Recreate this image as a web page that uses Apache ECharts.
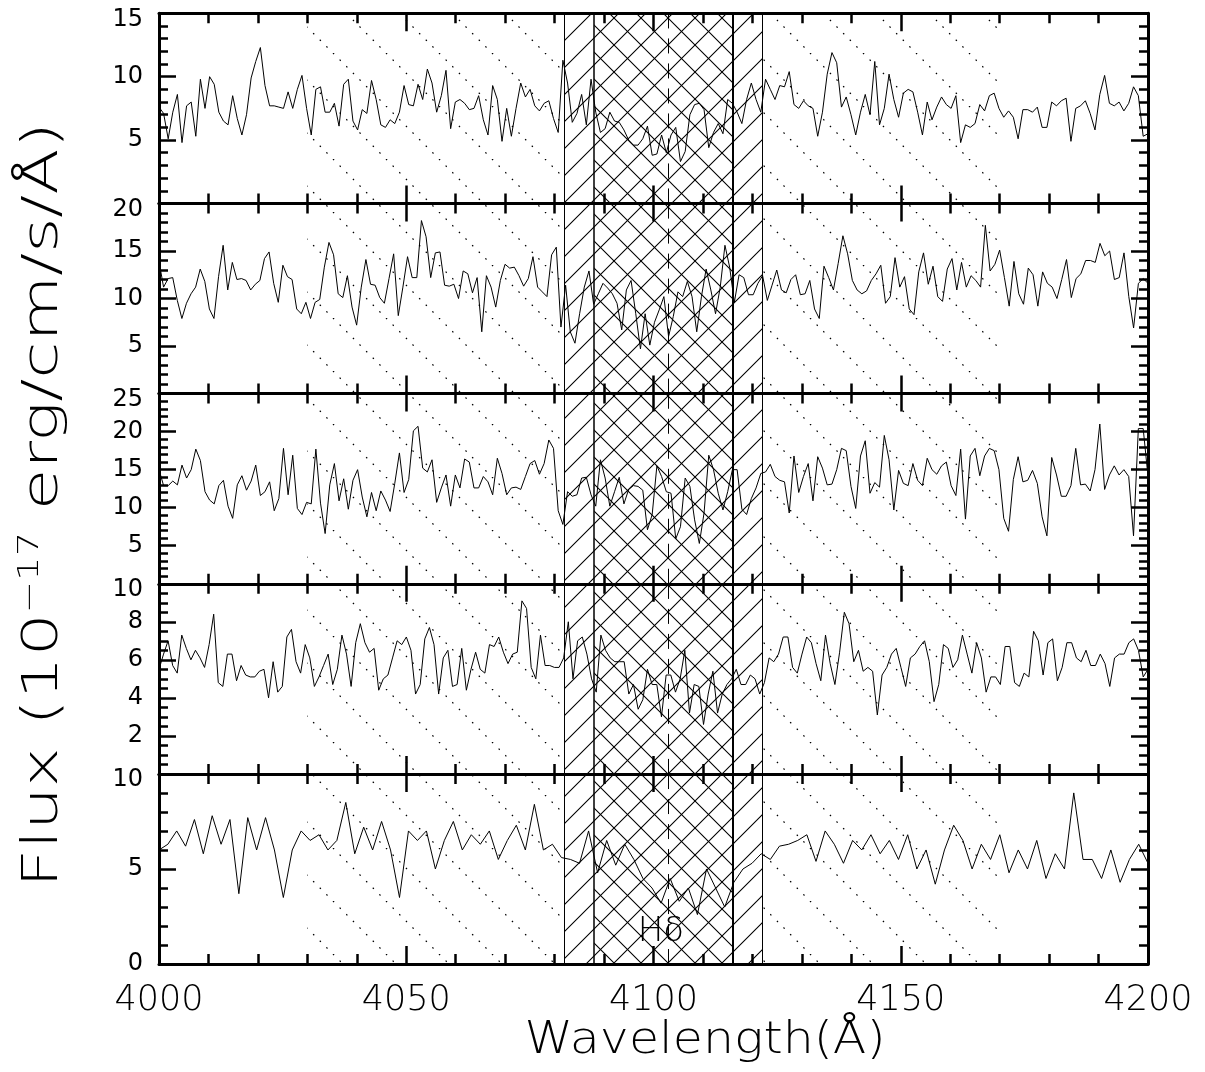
<!DOCTYPE html>
<html><head><meta charset="utf-8">
<script src="https://cdn.jsdelivr.net/npm/echarts@6/dist/echarts.min.js"></script>
<style>html,body{margin:0;padding:0;background:#fff}#chart{width:1205px;height:1072px}</style>
</head><body><div id="chart"></div>
<script>
// ---------- data ----------
const waveMin = 4000, waveMax = 4200;
const xTickStep = 50;
const flux1 = [
7.6,7.1,5.1,7.2,8.6,4.8,7.7,8.0,5.3,9.8,7.5,10.0,9.4,7.2,6.5,6.2,8.5,6.7,5.4,7.0,
9.9,11.2,12.3,9.3,7.7,7.7,7.6,7.5,8.8,7.5,9.0,10.1,7.5,5.4,9.0,9.2,7.2,7.2,7.9,6.1,
9.4,9.8,6.5,5.8,7.4,7.1,9.7,8.2,6.2,6.0,6.6,6.3,7.2,9.3,7.8,7.7,9.4,8.2,10.6,9.5,
7.2,8.5,10.5,5.9,8.0,8.2,7.9,7.4,7.5,8.5,6.6,5.4,9.3,8.2,
4.9,7.5,5.3,7.5,9.5,8.4,9.0,7.7,7.3,7.9,8.1,6.7,5.6,11.3,9.5,6.4,7.1,8.6,6.2,9.8,
7.2,5.6,5.9,7.2,6.5,6.4,5.8,5.0,4.6,4.6,5.1,6.1,3.8,3.9,5.4,4.0,5.4,6.0,3.3,4.1,
7.0,7.8,7.9,7.4,4.4,5.6,6.3,5.5,8.2,7.9,7.2,6.3,8.2,9.5,8.2,7.2,9.8,9.0,8.2,9.3,
9.2,10.4,7.8,7.5,8.1,7.7,7.5,5.3,7.2,10.2,11.9,11.1,7.6,8.4,7.0,
5.4,7.2,8.6,7.0,11.2,6.2,7.5,10.2,8.2,6.8,8.7,9.0,8.8,7.2,5.4,8.0,6.6,7.6,8.4,7.8,
7.5,8.5,4.8,6.2,6.0,6.3,7.8,7.3,8.5,8.7,7.5,6.8,7.3,6.8,5.1,7.4,7.4,7.2,7.6,6.0,
6.0,8.0,7.7,8.1,8.3,4.9,7.5,7.7,8.1,7.1,5.8,8.6,10.1,7.9,7.7,8.0,7.3,7.9,9.2,8.5,
5.3,5.5];
const flux2 = [
13.9,11.2,12.1,12.2,9.8,7.9,9.5,10.5,11.2,13.1,11.8,8.9,7.9,12.3,15.6,10.9,13.8,12.0,12.1,11.9,
10.9,11.5,11.9,14.2,14.9,11.6,9.6,13.5,12.3,12.0,8.9,8.4,9.6,7.9,9.6,9.9,13.3,15.9,14.6,10.5,
10.1,12.4,9.1,7.2,11.2,14.1,11.5,11.4,10.1,9.5,12.1,14.7,8.2,11.2,14.4,12.2,12.2,18.2,16.5,12.2,
14.8,14.9,11.4,11.3,11.5,10.0,12.9,12.6,10.6,12.2,6.5,12.4,11.2,9.1,
11.9,13.6,13.2,13.3,12.4,11.3,12.1,14.4,11.2,10.7,10.2,14.6,15.4,7.0,11.4,6.5,5.3,8.4,11.2,12.9,
9.4,10.5,11.6,11.1,10.5,9.5,6.7,10.9,11.9,8.4,4.7,8.4,5.1,7.5,8.8,10.2,6.0,8.1,10.7,10.2,
11.8,10.2,6.5,10.2,13.1,10.9,8.4,11.2,15.6,13.3,9.6,12.5,12.2,10.4,10.4,11.6,12.4,9.8,11.4,13.0,
10.9,10.6,12.0,12.5,10.4,10.5,11.9,8.9,7.9,13.4,12.2,10.9,13.7,16.6,14.7,
11.9,10.9,10.5,10.8,11.9,12.6,13.5,9.5,10.2,14.3,11.2,12.3,8.9,8.3,12.8,14.8,11.5,13.4,10.2,9.7,
13.1,14.2,10.9,13.8,11.2,12.4,11.9,11.2,17.7,12.9,13.6,15.1,12.2,9.2,13.9,10.5,9.4,13.2,12.5,9.2,
12.8,11.6,11.2,10.0,12.0,14.1,10.1,12.1,12.6,14.0,14.0,13.8,15.8,14.5,15.0,12.0,12.2,14.8,10.2,6.9,
11.6,12.1,11.6];
const flux3 = [
15.0,12.9,12.9,13.5,13.0,15.6,13.9,15.0,17.7,16.2,12.1,11.0,10.5,12.9,13.6,10.2,8.6,13.0,14.2,12.3,
13.5,15.6,11.6,12.1,13.4,9.6,11.2,17.8,11.7,16.9,9.9,9.1,10.7,10.5,17.7,10.6,6.6,13.0,15.8,10.9,
13.8,9.8,13.6,15.0,11.4,8.8,12.0,9.6,12.2,11.0,9.5,13.2,17.2,12.0,13.7,20.1,20.7,15.2,14.7,16.3,
10.7,12.6,14.3,10.2,14.3,12.6,16.4,16.0,12.6,12.6,14.1,13.4,11.7,16.5,
14.5,11.7,12.6,12.7,12.4,14.1,15.8,16.2,14.4,15.8,18.9,17.8,9.6,7.8,12.1,11.5,11.7,13.9,14.0,11.7,
10.2,16.3,13.9,10.2,12.1,14.0,10.5,12.4,12.9,12.8,12.3,7.1,9.1,15.5,14.1,12.1,11.9,5.9,7.5,13.9,
12.8,8.4,5.3,9.3,16.9,15.0,11.9,9.7,12.1,15.0,15.0,9.8,9.1,11.2,12.6,14.5,14.7,15.7,14.1,13.6,
13.4,9.3,16.8,12.0,14.1,15.8,10.9,16.7,15.2,13.0,13.1,15.0,17.8,17.5,
12.8,9.9,16.8,18.8,11.9,13.3,12.7,19.5,16.3,9.7,14.9,13.2,12.9,15.8,13.6,12.9,16.5,15.0,14.4,15.5,
16.0,12.9,11.6,17.7,8.5,16.8,17.8,14.2,16.8,17.8,17.5,15.0,8.6,6.9,13.7,16.7,13.4,13.6,14.9,13.2,
8.8,6.3,16.6,14.3,11.5,11.5,12.9,17.8,13.0,13.1,12.2,15.0,21.0,12.4,14.3,15.5,14.3,15.0,14.1,6.3,
20.4,20.4,14.1];
const flux4 = [
5.5,6.3,7.0,5.7,5.3,7.3,6.6,6.0,6.5,6.1,5.6,6.8,8.4,4.8,4.6,6.3,6.3,4.9,5.7,5.2,
5.1,5.1,5.4,5.5,4.0,5.9,4.3,4.6,7.2,7.6,5.9,5.3,6.8,6.1,4.6,5.1,5.7,6.3,4.7,5.5,
7.3,6.3,4.6,6.9,7.9,6.9,6.4,6.6,4.4,5.0,5.2,6.1,7.0,6.8,7.2,6.5,4.2,4.7,7.1,7.7,
6.8,4.2,6.1,6.5,4.6,4.7,6.6,4.4,5.5,6.4,5.5,5.3,6.8,6.7,7.2,
6.4,5.8,6.3,6.4,9.1,8.7,5.6,5.0,7.3,5.7,5.7,5.6,5.6,6.1,8.0,5.0,7.0,7.2,6.3,5.0,
4.3,7.3,6.5,6.1,5.9,5.9,5.9,4.2,4.7,3.4,3.9,5.5,4.7,4.7,3.0,5.2,5.2,4.3,5.0,6.5,
3.2,4.7,4.6,2.6,4.2,5.4,3.2,4.2,4.7,5.0,5.5,4.7,4.7,5.2,5.0,4.2,4.8,6.1,5.9,6.3,
7.2,7.2,5.6,5.3,6.3,7.2,6.9,5.8,4.9,7.3,5.8,4.7,6.4,8.5,7.9,
5.9,6.5,5.4,5.6,5.4,3.1,5.2,5.6,6.3,6.6,5.6,4.6,6.1,6.3,6.7,7.0,5.9,3.8,4.7,6.8,
6.6,5.6,6.0,7.3,6.3,5.3,6.9,6.1,4.3,5.1,5.1,4.7,6.7,6.7,4.8,4.6,5.3,5.1,7.5,7.0,
5.2,6.9,7.1,4.9,5.6,6.9,6.9,6.1,5.9,6.5,5.7,5.7,6.3,5.8,4.6,6.1,6.3,6.3,6.9,7.1,
6.5,5.1,5.5];
const flux5 = [
6.0,6.3,7.0,6.2,7.6,5.8,7.8,6.3,7.6,3.7,7.7,6.0,7.7,6.0,3.5,6.0,7.0,6.5,6.8,6.0,
6.5,8.5,5.8,7.2,6.0,7.5,6.0,3.5,7.0,6.5,7.0,5.0,6.5,7.5,6.0,6.8,6.3,7.0,5.5,6.5,
7.3,6.0,8.4,6.0,6.3,5.6,5.5,5.3,7.0,4.8,6.5,5.2,6.3,5.5,4.5,4.0,3.2,4.5,3.3,4.0,
2.6,5.0,4.0,3.0,4.3,5.0,5.3,5.8,5.5,6.2,6.3,6.5,6.8,5.4,7.0,6.3,5.3,6.5,6.0,6.8,
5.8,6.5,5.5,6.8,5.0,6.0,4.2,6.0,7.3,6.5,5.0,6.3,5.5,6.8,4.8,6.0,5.0,6.5,4.5,5.8,
5.0,9.0,5.5,5.5,4.5,6.0,4.3,5.5,6.3,5.3];
const fluxes = [flux1, flux2, flux3, flux4, flux5];
const yMax = [15, 20, 25, 10, 10];
const yStep = [5, 5, 5, 2, 5];
const yMinorSplit = [5, 5, 5, 4, 5];
const lineBand = [4082, 4122];
const narrowBand = [4088, 4116];
const blueCont = [4030, 4082];
const redCont = [4122, 4170];
const hdeltaWave = 4102.9;
const hdeltaText = 'Hδ';
const hdeltaPos = [4101.5, 1.7];
const xTitle = 'Wavelength(Å)';

function waveGrid(n) {
  const out = [];
  for (let i = 0; i < n; i++) out.push(waveMin * Math.pow(waveMax / waveMin, i / (n - 1)));
  return out;
}

// ---------- hatch patterns ----------
function tile(d, draw) {
  const c = document.createElement('canvas');
  c.width = d; c.height = d;
  const ctx = c.getContext('2d');
  draw(ctx, d);
  return c;
}
function slashLines(ctx, d, c0) {
  for (let k = -1; k <= 2; k++) { const s = c0 + k * d; ctx.moveTo(s + 3, -3); ctx.lineTo(s - d - 3, d + 3); }
}
function backLines(ctx, d, c0) {
  for (let k = -2; k <= 1; k++) { const s = c0 + k * d; ctx.moveTo(s - 3, -3); ctx.lineTo(s + d + 3, d + 3); }
}
const HATCH = 27;
const slashTile = tile(HATCH, (ctx, d) => {
  ctx.strokeStyle = '#000'; ctx.lineWidth = 1.1; ctx.beginPath(); slashLines(ctx, d, 11); ctx.stroke();
});
const backTile = tile(HATCH, (ctx, d) => {
  ctx.strokeStyle = '#000'; ctx.lineWidth = 1.1; ctx.beginPath(); backLines(ctx, d, 2); ctx.stroke();
});
const DOT = 53;
const dotTile = tile(DOT, (ctx, d) => {
  const period = d * Math.SQRT2 / 8;
  ctx.strokeStyle = '#000'; ctx.lineWidth = 1.2;
  ctx.setLineDash([1.6, period - 1.6]);
  for (let k = -1; k <= 1; k++) {
    const s = 15 + k * d;
    ctx.beginPath(); ctx.moveTo(s, 0); ctx.lineTo(s + d, d); ctx.stroke();
  }
});
const pat = (img) => ({ image: img, repeat: 'repeat' });

// ---------- layout ----------
const L = 159, W = 989, TOP = 13.3, PH = 190.15;
const FONT = '"DejaVu Sans", sans-serif';
const grids = [], xAxes = [], yAxes = [], series = [];
const axLine = { show: true, onZero: false, lineStyle: { color: '#000', width: 3 } };

fluxes.forEach((flux, k) => {
  grids.push({ left: L, width: W, top: TOP + PH * k, height: PH, containLabel: false, outerBoundsMode: 'none' });
  const last = k === fluxes.length - 1;
  ['bottom', 'top'].forEach((pos) => {
    xAxes.push({
      type: 'value', gridIndex: k, position: pos, min: waveMin, max: waveMax, interval: xTickStep,
      axisLine: axLine,
      axisTick: { show: true, inside: true, length: 18, lineStyle: { color: '#000', width: 2.5 } },
      minorTick: { show: true, splitNumber: 5, length: 10, lineStyle: { color: '#000', width: 2.5 } },
      splitLine: { show: false }, minorSplitLine: { show: false },
      axisLabel: { show: last && pos === 'bottom', margin: 19, color: '#000', fontSize: 35, fontFamily: FONT,
        fontWeight: 200, showMinLabel: true, showMaxLabel: true, formatter: (v) => String(v) }
    });
  });
  ['left', 'right'].forEach((pos) => {
    yAxes.push({
      type: 'value', gridIndex: k, position: pos, min: 0, max: yMax[k], interval: yStep[k],
      axisLine: axLine,
      axisTick: { show: true, inside: true, length: 17, lineStyle: { color: '#000', width: 2.5 } },
      minorTick: { show: true, splitNumber: yMinorSplit[k], length: 9, lineStyle: { color: '#000', width: 2.5 } },
      splitLine: { show: false }, minorSplitLine: { show: false },
      axisLabel: { show: pos === 'left', margin: 16, color: '#000', fontSize: 24, fontFamily: FONT,
        showMinLabel: last, showMaxLabel: true,
        formatter: (v) => (v === yMax[k] ? '{top|' + v + '}' : String(v)),
        rich: { top: { fontSize: 24, fontFamily: FONT, color: '#000', padding: [12, 0, 0, 0] } } }
    });
  });
  const grid = waveGrid(flux.length);
  const s = {
    type: 'line', xAxisIndex: 2 * k, yAxisIndex: 2 * k,
    data: flux.map((v, i) => [grid[i], v]),
    symbol: 'none', lineStyle: { color: '#000', width: 1 }, z: 5, silent: true,
    markArea: {
      silent: true, emphasis: { disabled: true },
      label: { show: false },
      data: [
        [{ xAxis: blueCont[0], itemStyle: { color: pat(dotTile), opacity: 1 } }, { xAxis: blueCont[1] }],
        [{ xAxis: redCont[0], itemStyle: { color: pat(dotTile), opacity: 1 } }, { xAxis: redCont[1] }],
        [{ xAxis: lineBand[0], itemStyle: { color: pat(slashTile), opacity: 1 } }, { xAxis: lineBand[1] }],
        [{ xAxis: narrowBand[0], itemStyle: { color: pat(backTile), opacity: 1 } }, { xAxis: narrowBand[1] }]
      ]
    },
    markLine: {
      silent: true, symbol: ['none', 'none'], label: { show: false }, emphasis: { disabled: true },
      lineStyle: { color: '#000', type: 'solid', width: 1 },
      data: [
        { xAxis: lineBand[0], lineStyle: { width: 1 } },
        { xAxis: narrowBand[0], lineStyle: { width: 1.5 } },
        { xAxis: narrowBand[1], lineStyle: { width: 2 } },
        { xAxis: lineBand[1], lineStyle: { width: 1 } },
        { xAxis: hdeltaWave, lineStyle: { width: 1, type: [15, 10] } }
      ]
    }
  };
  if (last) {
    s.markPoint = {
      silent: true, symbol: 'rect', symbolSize: 1, itemStyle: { color: 'rgba(0,0,0,0)' },
      label: { show: true, position: 'inside', formatter: hdeltaText, color: '#000', fontSize: 34,
        fontFamily: FONT, fontWeight: 200 },
      data: [{ coord: hdeltaPos }]
    };
  }
  series.push(s);
});

const option = {
  animation: false,
  backgroundColor: '#fff',
  grid: grids, xAxis: xAxes, yAxis: yAxes, series,
  graphic: [
    { type: 'text', x: 705, y: 1041, scaleX: 1.09, silent: true,
      style: { text: xTitle, fontSize: 45, fontFamily: FONT, fontWeight: 200, fill: '#000', align: 'center', verticalAlign: 'middle' } },
    { type: 'text', x: 44, y: 505, rotation: Math.PI / 2, scaleX: 1.38, silent: true,
      style: { text: 'Flux (10{sup|−17} erg/cm/s/Å)', fontSize: 49, fontFamily: FONT, fontWeight: 200, fill: '#000',
        align: 'center', verticalAlign: 'middle',
        rich: { sup: { fontSize: 28, fontFamily: FONT, fontWeight: 200, fill: '#000', padding: [0, 0, 26, 0] } } } }
  ]
};
const chart = echarts.init(document.getElementById('chart'), null, { renderer: 'canvas' });
chart.setOption(option);
</script></body></html>
